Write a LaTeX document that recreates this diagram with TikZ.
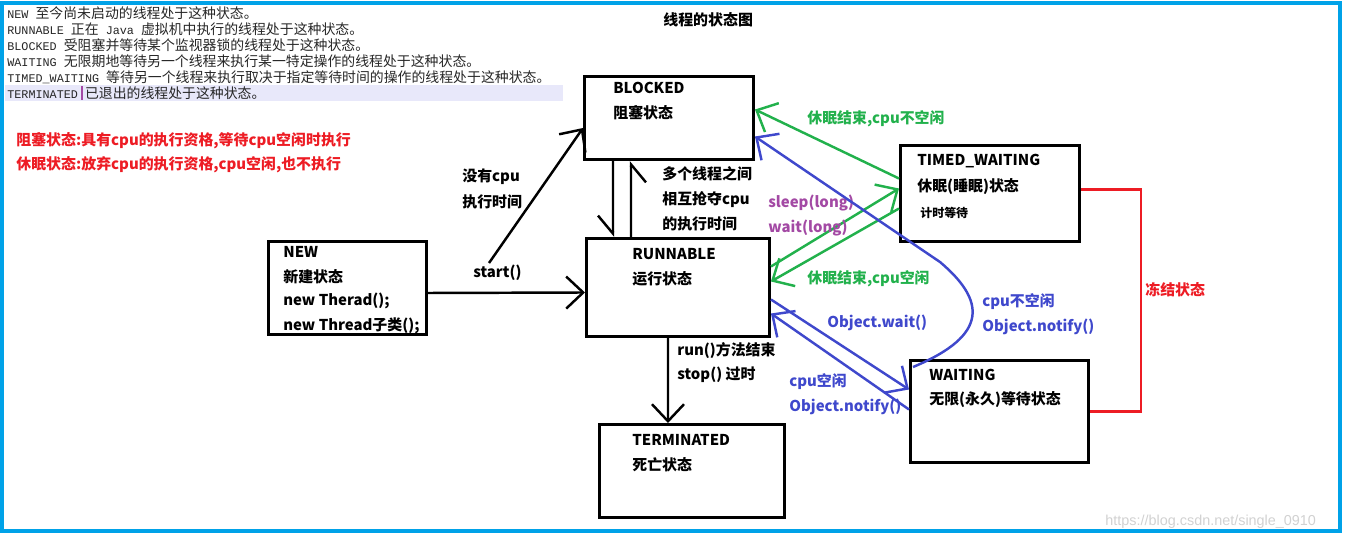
\documentclass[tikz,border=0pt]{standalone}
\usepackage{fontspec}
\newfontfamily\yahei{Noto Sans CJK SC}
\newfontfamily\mono{Liberation Mono}
\newfontfamily\wmfont{Liberation Sans}
\usetikzlibrary{arrows.meta,calc}
\definecolor{paintred}{RGB}{237,28,36}
\definecolor{paintgreen}{RGB}{34,177,76}
\definecolor{paintblue}{RGB}{63,72,204}
\definecolor{paintpurple}{RGB}{163,73,164}
\definecolor{frameblue}{RGB}{0,162,232}
\definecolor{hilite}{RGB}{232,232,250}
\newcommand{\lblfont}{\yahei\bfseries\fontsize{8.5}{10}\selectfont}
\newcommand{\smallfont}{\yahei\bfseries\fontsize{6.8}{8}\selectfont}
\newcommand{\codefont}{\yahei\fontsize{7.9}{9}\selectfont}
\newcommand{\cw}[1]{{\mono\fontsize{6.7}{9}\selectfont #1}}
\tikzset{
  state/.style={draw, line width=1.7pt, anchor=north west, inner sep=0pt},
  lbl/.style={anchor=west, inner sep=0pt, font=\lblfont},
  codeline/.style={anchor=west, inner sep=0pt, font=\codefont, text=black!85},
  arr/.style={line width=1.4pt, -{Straight Barb[length=3.4mm,width=6.4mm]}},
  harp/.style={line width=1.4pt, -{Straight Barb[harpoon,swap,length=3.6mm,width=6mm]}}
}
\begin{document}
\begin{tikzpicture}[x=0.02cm, y=-0.02cm]
  \useasboundingbox (0,0) rectangle (1345,539);
  % frame and the text at the top
  \draw[frameblue, line width=2.3pt] (2,3) rectangle (1340,531);
  \fill[hilite] (5,85) rectangle (563,101);
  \node[codeline] (l1) at (7,13) {\cw{NEW }至今尚未启动的线程处于这种状态。};
  \node[codeline] (l2) at (7,29) {\cw{RUNNABLE }正在\cw{ Java }虚拟机中执行的线程处于这种状态。};
  \node[codeline] (l3) at (7,45) {\cw{BLOCKED }受阻塞并等待某个监视器锁的线程处于这种状态。};
  \node[codeline] (l4) at (7,61) {\cw{WAITING }无限期地等待另一个线程来执行某一特定操作的线程处于这种状态。};
  \node[codeline] (l5) at (7,77) {\cw{TIMED\_WAITING }等待另一个线程来执行取决于指定等待时间的操作的线程处于这种状态。};
  \node[codeline] (l6) at (7,93) {\cw{TERMINATED }已退出的线程处于这种状态。};
  \draw[paintpurple, line width=0.6pt] (l6.west) ++(75,-7) -- ++(0,14);
  \node[lbl] (title) at (663,20) {线程的状态图};
  \node[lbl, text=paintred] (note1) at (16,141) {阻塞状态:具有cpu的执行资格,等待cpu空闲时执行};
  \node[lbl, text=paintred] (note2) at (16,165) {休眠状态:放弃cpu的执行资格,cpu空闲,也不执行};

  % states
  \node[state, minimum width=3.38cm, minimum height=1.66cm] (blocked) at (583,75) {};
  \node[state, minimum width=3.58cm, minimum height=1.92cm] (timed) at (899,144) {};
  \node[state, minimum width=3.16cm, minimum height=1.86cm] (new) at (267,240) {};
  \node[state, minimum width=3.66cm, minimum height=1.96cm] (runnable) at (585,237) {};
  \node[state, minimum width=3.70cm, minimum height=1.86cm] (terminated) at (598,423) {};
  \node[state, minimum width=3.56cm, minimum height=2.04cm] (waiting) at (909,359) {};

  \node[lbl] (blockedA) at (613,88) {BLOCKED};
  \node[lbl] (blockedB) at (613,113) {阻塞状态};
  \node[lbl] (timedA) at (917,161) {TIMED\_WAITING};
  \node[lbl] (timedB) at (917,187) {休眠(睡眠)状态};
  \node[anchor=west, inner sep=0pt, font=\smallfont] (timedC) at (920,213) {计时等待};
  \node[lbl] (newA) at (283,252) {NEW};
  \node[lbl] (newB) at (283,277) {新建状态};
  \node[lbl] (newC) at (283,301) {new Therad();};
  \node[lbl] (newD) at (283,326) {new Thread子类();};
  \node[lbl] (runnableA) at (632,254) {RUNNABLE};
  \node[lbl] (runnableB) at (632,279) {运行状态};
  \node[lbl] (terminatedA) at (632,440) {TERMINATED};
  \node[lbl] (terminatedB) at (632,465) {死亡状态};
  \node[lbl] (waitingA) at (929,375) {WAITING};
  \node[lbl] (waitingB) at (929,400) {无限(永久)等待状态};

  % black transitions
  \draw[arr] ([yshift=-0.1cm]new.east) -- ([yshift=-0.1cm]runnable.west);
  \node[lbl] (startL) at (473,273) {start()};
  \coordinate (nocpu) at (489,263);
  \draw[arr] (nocpu) -- ([yshift=-0.2cm]blocked.west);
  \node[lbl] (nocpuA) at (462,177) {没有cpu};
  \node[lbl] (nocpuB) at (462,202) {执行时间};
  \draw[harp] ([xshift=0.6cm]blocked.south west) -- ([xshift=0.56cm]runnable.north west);
  \draw[harp] ([xshift=0.92cm]runnable.north west) -- ([xshift=0.96cm]blocked.south west);
  \node[lbl] (grabA) at (662,174) {多个线程之间};
  \node[lbl] (grabB) at (662,200) {相互抢夺cpu};
  \node[lbl] (grabC) at (662,224) {的执行时间};
  \draw[arr] ([xshift=1.66cm]runnable.south west) -- ([xshift=1.4cm]terminated.north west);
  \node[lbl] (endA) at (677,351) {run()方法结束};
  \node[lbl] (endB) at (677,375) {stop() 过时};

  % timed waiting
  \draw[arr, paintgreen] ([yshift=0.3cm]timed.west) -- ([yshift=0.17cm]blocked.east);
  \node[lbl, text=paintgreen] (wakeA) at (807,119) {休眠结束,cpu不空闲};
  \draw[arr, paintgreen] ([yshift=0.42cm]runnable.east) -- ([yshift=0.1cm]timed.west);
  \draw[arr, paintgreen] ([yshift=-0.3cm]timed.west) -- ([yshift=0.12cm]runnable.east);
  \node[lbl, text=paintgreen] (wakeB) at (807,279) {休眠结束,cpu空闲};
  \node[lbl, text=paintpurple] (sleepL) at (768,203) {sleep(long)};
  \node[lbl, text=paintpurple] (waitL) at (768,228) {wait(long)};

  % waiting
  \draw[arr, paintblue] ([yshift=-0.24cm]runnable.east) -- ([yshift=0.44cm]waiting.west);
  \node[lbl, text=paintblue] (objwait) at (827,323) {Object.wait()};
  \draw[arr, paintblue] ([yshift=0.04cm]waiting.west) -- ([yshift=-0.52cm]runnable.east);
  \node[lbl, text=paintblue] (freeA) at (789,382) {cpu空闲};
  \node[lbl, text=paintblue] (freeB) at (789,407) {Object.notify()};
  \coordinate (loop) at (940,262);
  \draw[arr, paintblue] ([xshift=0.08cm,yshift=-0.16cm]waiting.north west)
    .. controls +(77,-32) and +(45,38) .. (loop) -- ([yshift=-0.37cm]blocked.east);
  \node[lbl, text=paintblue] (busyA) at (982,302) {cpu不空闲};
  \node[lbl, text=paintblue] (busyB) at (982,327) {Object.notify()};

  % frozen
  \draw[paintred, line width=1.4pt] ([yshift=0.08cm]timed.east) -- ++(60,0) |- (waiting.east);
  \node[lbl, text=paintred] (frozen) at (1145,290) {冻结状态};
  \node[anchor=west, inner sep=0pt, text=black!18, font=\wmfont\fontsize{8.2}{10}\selectfont] (wm) at (1105,522) {https://blog.csdn.net/single\_0910};
\end{tikzpicture}
\end{document}
